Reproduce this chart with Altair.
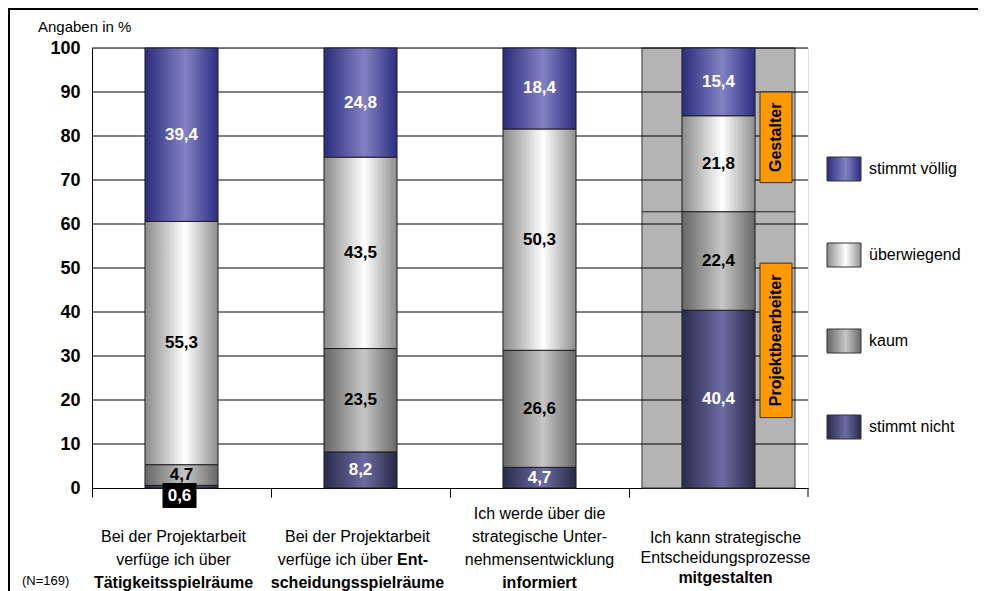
import altair as alt
import pandas as pd

# ---------------- data ----------------
questions = ["Q1", "Q2", "Q3", "Q4"]
responses = ["stimmt nicht", "kaum", "überwiegend", "stimmt völlig"]
stimmt_nicht = [0.6, 8.2, 4.7, 40.4]
kaum = [4.7, 23.5, 26.6, 22.4]
ueberwiegend = [55.3, 43.5, 50.3, 21.8]
stimmt_voellig = [39.4, 24.8, 18.4, 15.4]

# x labels: (text, bold) per line, top to bottom; bar 2 line 2 is mixed
label_lines = {
    "Q1": [("Bei der Projektarbeit", False), ("verfüge ich über", False), ("Tätigkeitsspielräume", True)],
    "Q2": [("Bei der Projektarbeit", False), None, ("scheidungsspielräume", True)],
    "Q3": [("Ich werde über die", False), ("strategische Unter-", False), ("nehmensentwicklung", False), ("informiert", True)],
    "Q4": [("Ich kann strategische", False), ("Entscheidungsprozesse", False), ("mitgestalten", True)],
}
mixed_line = [("verfüge ich über", False), ("Ent-", True)]

group_names = ["Projektbearbeiter", "Gestalter"]
group_box_lo = [16.0, 69.4]
group_box_hi = [51.1, 90.0]

y_ticks = list(range(0, 101, 10))
axis_title = "Angaben in %"
note = "(N=169)"

# ---------------- tables ----------------
series = [stimmt_nicht, kaum, ueberwiegend, stimmt_voellig]
rows = []
for ri, (r, vals) in enumerate(zip(responses, series)):
    for q, v in zip(questions, vals):
        rows.append({"question": q, "response": r, "value": v, "order": ri})
df = pd.DataFrame(rows)

split = stimmt_nicht[3] + kaum[3]
df_gray = pd.DataFrame({"question": ["Q4", "Q4"], "lo": [0, split], "hi": [split, 100]})
df_grid = pd.DataFrame({"v": y_ticks[1:]})
df_groups = pd.DataFrame({"question": ["Q4", "Q4"], "name": group_names,
                          "lo": group_box_lo, "hi": group_box_hi})

W, H = 716, 440
FONT = "Liberation Sans"


def grad(edge_l, center, edge_r, peak=0.55):
    return alt.LinearGradient(
        gradient="linear",
        stops=[alt.GradientStop(color=edge_l, offset=0),
               alt.GradientStop(color=center, offset=peak),
               alt.GradientStop(color=edge_r, offset=1)],
        x1=0, x2=1, y1=0, y2=0)


fills = {
    "stimmt völlig": grad("#2a2c7c", "#8282c4", "#2c2e80"),
    "überwiegend": grad("#8a8a8a", "#ffffff", "#8e8e8e"),
    "kaum": grad("#666666", "#c6c6c6", "#686868"),
    "stimmt nicht": grad("#2a2a4e", "#6c6ca2", "#282846"),
}

xscale = alt.Scale(domain=questions, paddingInner=0, paddingOuter=0)
xenc = alt.X("question:N", sort=questions, scale=xscale, title=None,
             axis=alt.Axis(labels=False, ticks=True, tickSize=9, tickColor="black",
                           bandPosition=0, domainColor="black", grid=False))
yscale = alt.Scale(domain=[0, 100], nice=False)
yaxis = alt.Axis(values=y_ticks, grid=False, ticks=False, labelFontSize=18,
                 labelFontWeight="bold", labelColor="black", labelPadding=12,
                 labelFont=FONT, domainColor="black", title=None)

dummy = pd.DataFrame({"a": [0]})
layers = []

# outer frame
layers.append(alt.Chart(dummy).mark_rect(fillOpacity=0, stroke="black", strokeWidth=2).encode(
    x=alt.value(-83), y=alt.value(-39), x2=alt.value(W + 300), y2=alt.value(H + 300)))

# grey background boxes for the fourth item
layers.append(alt.Chart(df_gray).mark_bar(width=alt.RelativeBandSize(0.855), color="#b4b4b4",
                                          stroke="#333333", strokeWidth=1).encode(
    x=xenc, y=alt.Y("lo:Q", scale=yscale, axis=yaxis), y2="hi:Q"))

# gridlines
layers.append(alt.Chart(df_grid).mark_rule(color="black", strokeWidth=1).encode(
    y=alt.Y("v:Q", scale=yscale, axis=yaxis)))


def stacked():
    return alt.Chart(df).transform_stack(
        stack="value", groupby=["question"], as_=["y0", "y1"],
        sort=[alt.SortField("order", order="ascending")])


for r in responses:
    layers.append(stacked().transform_filter(alt.datum.response == r).mark_bar(
        width=alt.RelativeBandSize(0.408), color=fills[r], stroke="#1e1e1e", strokeWidth=1).encode(
        x=xenc, y=alt.Y("y0:Q", scale=yscale, axis=yaxis), y2="y1:Q"))

lab_calc = dict(mid="(datum.y0 + datum.y1) / 2",
                lab="replace(format(datum.value, '.1f'), '.', ',')")
blue = ["stimmt völlig", "stimmt nicht"]
greys = ["kaum", "überwiegend"]
for group, col in [(blue, "white"), (greys, "black")]:
    layers.append(stacked().transform_filter(alt.datum.value >= 2)
                  .transform_filter(alt.FieldOneOfPredicate(field="response", oneOf=group))
                  .transform_calculate(**lab_calc)
                  .mark_text(font=FONT, fontSize=17, fontWeight="bold", color=col, baseline="middle")
                  .encode(x=xenc, y=alt.Y("mid:Q", scale=yscale, axis=yaxis), text="lab:N"))

# small value label below the axis (black box)
small = stacked().transform_filter(alt.datum.value < 2).transform_calculate(**lab_calc)
layers.append(small.mark_bar(width=34, color="black", xOffset=-2).encode(
    x=xenc, y=alt.value(H - 5), y2=alt.value(H + 20)))
layers.append(small.mark_text(font=FONT, fontSize=17, fontWeight="bold", color="white",
                              baseline="middle", dx=-2).encode(x=xenc, y=alt.value(H + 8), text="lab:N"))

# orange group boxes
layers.append(alt.Chart(df_groups).mark_bar(width=32, xOffset=57.5, color="#ff9900",
                                            stroke="#333333", strokeWidth=1).encode(
    x=xenc, y=alt.Y("lo:Q", scale=yscale, axis=yaxis), y2="hi:Q"))
layers.append(alt.Chart(df_groups).transform_calculate(mid="(datum.lo + datum.hi) / 2").mark_text(
    font=FONT, fontSize=16, fontWeight="bold", angle=270, xOffset=57.5, color="black",
    baseline="middle", align="center").encode(
    x=xenc, y=alt.Y("mid:Q", scale=yscale, axis=yaxis), text="name:N"))

# right-most category tick
layers.append(alt.Chart(dummy).mark_rule(color="black").encode(
    x=alt.value(W), y=alt.value(H), y2=alt.value(H + 9)))

# x labels (text boxes slightly off-centre, as in the original)
label_shift = {"Q1": -8, "Q2": -3, "Q3": 0, "Q4": 7}
for q in questions:
    lines = label_lines[q]
    n = len(lines)
    if q == "Q4":
        bottom, step = H + 90, 20
    else:
        bottom, step = H + 95, 23
    fs = 16
    for i, ln in enumerate(lines):
        py = bottom - step * (n - 1 - i)
        if ln is None:
            split_dx = 32
            parts = [(mixed_line[0], "right", split_dx), (mixed_line[1], "left", split_dx + 4.5)]
            for (txt, bold), al, dx in parts:
                layers.append(alt.Chart(pd.DataFrame({"question": [q], "t": [txt]})).mark_text(
                    font=FONT, fontSize=fs, fontWeight="bold" if bold else "normal", color="black",
                    baseline="middle", align=al, dx=dx).encode(x=xenc, y=alt.value(py), text="t:N"))
            continue
        txt, bold = ln
        layers.append(alt.Chart(pd.DataFrame({"question": [q], "t": [txt]})).mark_text(
            font=FONT, fontSize=fs, fontWeight="bold" if bold else "normal", color="black",
            baseline="middle", dx=label_shift[q]).encode(x=xenc, y=alt.value(py), text="t:N"))

# title & note
layers.append(alt.Chart(pd.DataFrame({"t": [axis_title]})).mark_text(
    font=FONT, fontSize=15, align="left", baseline="middle", color="black").encode(
    x=alt.value(-54), y=alt.value(-21), text="t:N"))
layers.append(alt.Chart(pd.DataFrame({"t": [note]})).mark_text(
    font=FONT, fontSize=13, align="left", baseline="middle", color="black").encode(
    x=alt.value(-70), y=alt.value(H + 93), text="t:N"))

# custom legend
legend_order = ["stimmt völlig", "überwiegend", "kaum", "stimmt nicht"]
for i, r in enumerate(legend_order):
    yc = 121 + 86 * i
    layers.append(alt.Chart(dummy).mark_rect(color=fills[r], stroke="#333333", strokeWidth=1).encode(
        x=alt.value(735), x2=alt.value(769), y=alt.value(yc - 12), y2=alt.value(yc + 12)))
    layers.append(alt.Chart(pd.DataFrame({"t": [r]})).mark_text(
        font=FONT, fontSize=16, align="left", baseline="middle", color="black").encode(
        x=alt.value(777), y=alt.value(yc), text="t:N"))

chart = alt.layer(*layers).properties(
    width=W, height=H,
    autosize=alt.AutoSizeParams(type="none"),
    padding={"left": 84, "top": 40, "right": 170, "bottom": 103},
).configure_view(stroke="black", strokeWidth=1).configure(background="white")

chart.save("out.html", embed_options={"renderer": "svg", "actions": False})
